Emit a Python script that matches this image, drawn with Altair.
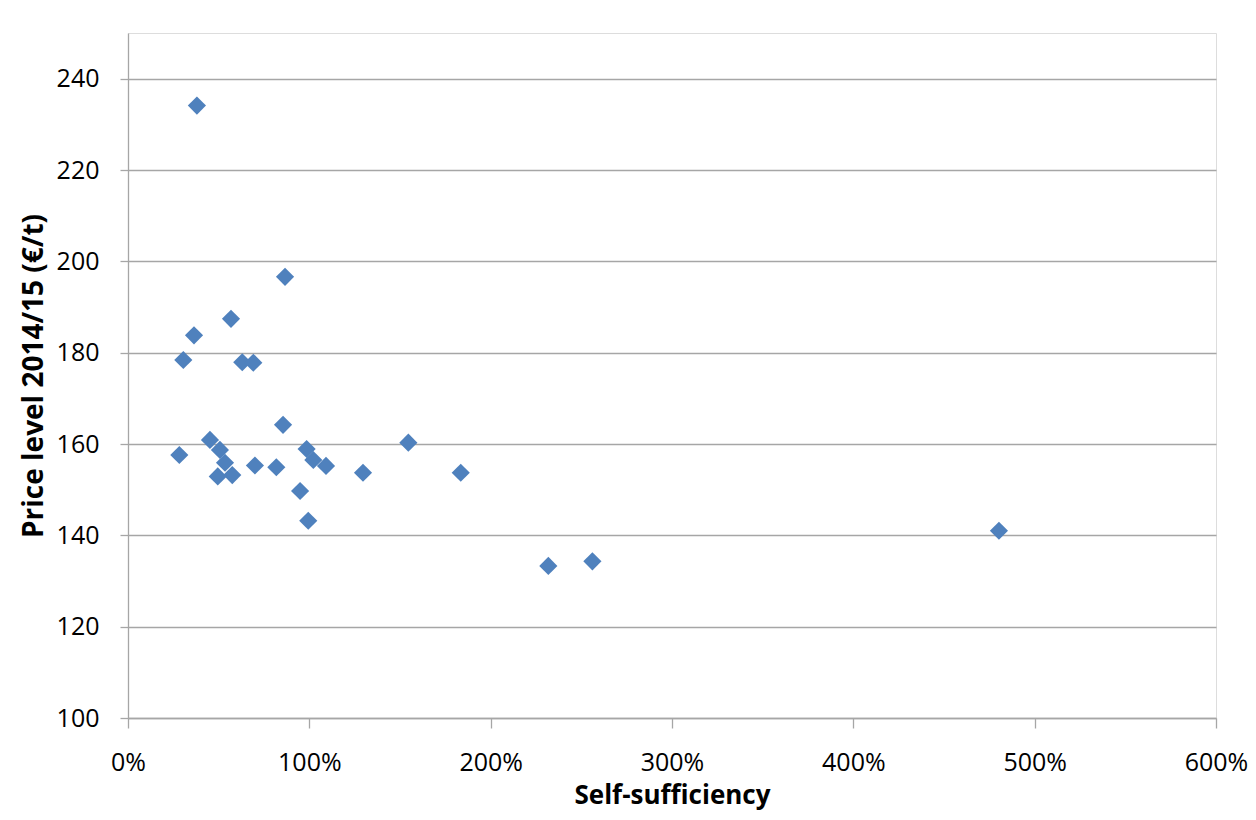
import altair as alt
import pandas as pd

self_sufficiency = [0.380, 0.866, 0.568, 0.364, 0.305, 0.630, 0.691, 0.855, 1.546,
                    0.452, 0.283, 0.507, 0.985, 1.022, 1.092, 0.535, 0.700, 0.818,
                    1.296, 1.835, 0.495, 0.575, 0.949, 0.994, 2.318, 2.561, 4.803]
price_level = [234.1, 196.6, 187.4, 183.8, 178.4, 177.9, 177.8, 164.2, 160.3,
               160.9, 157.6, 158.7, 158.9, 156.5, 155.2, 155.9, 155.3, 154.9,
               153.7, 153.7, 152.9, 153.2, 149.7, 143.2, 133.3, 134.3, 141.0]

x_ticks = [0, 1, 2, 3, 4, 5, 6]
y_ticks = [100, 120, 140, 160, 180, 200, 220, 240]

df = pd.DataFrame({"x": self_sufficiency, "y": price_level})

FONT = "Open Sans"

chart = alt.Chart(df).mark_point(
    shape="diamond", filled=True, size=330, color="#4F81BD", opacity=1
).encode(
    x=alt.X("x:Q", scale=alt.Scale(domain=[0, 6], nice=False, zero=False),
            axis=alt.Axis(values=x_ticks, format=".0%", title="Self-sufficiency",
                          grid=False, tickSize=10, tickColor="#A6A6A6",
                          domainColor="#A6A6A6", domainWidth=1.3, tickWidth=1.3,
                          labelPadding=22, titlePadding=7, labelFlush=False,
                          labelFont=FONT, labelFontSize=25, labelColor="#000000",
                          titleFont=FONT, titleFontSize=26, titleFontWeight="bold",
                          titleColor="#000000")),
    y=alt.Y("y:Q", scale=alt.Scale(domain=[100, 250], nice=False, zero=False),
            axis=alt.Axis(values=y_ticks, title="Price level 2014/15 (€/t)",
                          grid=True, gridColor="#A6A6A6", gridWidth=1.3,
                          tickSize=8, tickColor="#A6A6A6", tickWidth=1.3,
                          domainColor="#A6A6A6", domainWidth=1.3,
                          labelPadding=21, titlePadding=8, labelFlush=False,
                          labelFont=FONT, labelFontSize=25, labelColor="#000000",
                          titleFont=FONT, titleFontSize=28, titleFontWeight="bold",
                          titleColor="#000000")),
).properties(
    width=1088, height=685,
    autosize=alt.AutoSizeParams(type="none"),
    padding={"left": 120, "top": 25, "right": 32, "bottom": 94},
).configure_view(stroke=None).configure(background="white")

chart.save("out.html", embed_options={"renderer": "svg", "actions": False})
